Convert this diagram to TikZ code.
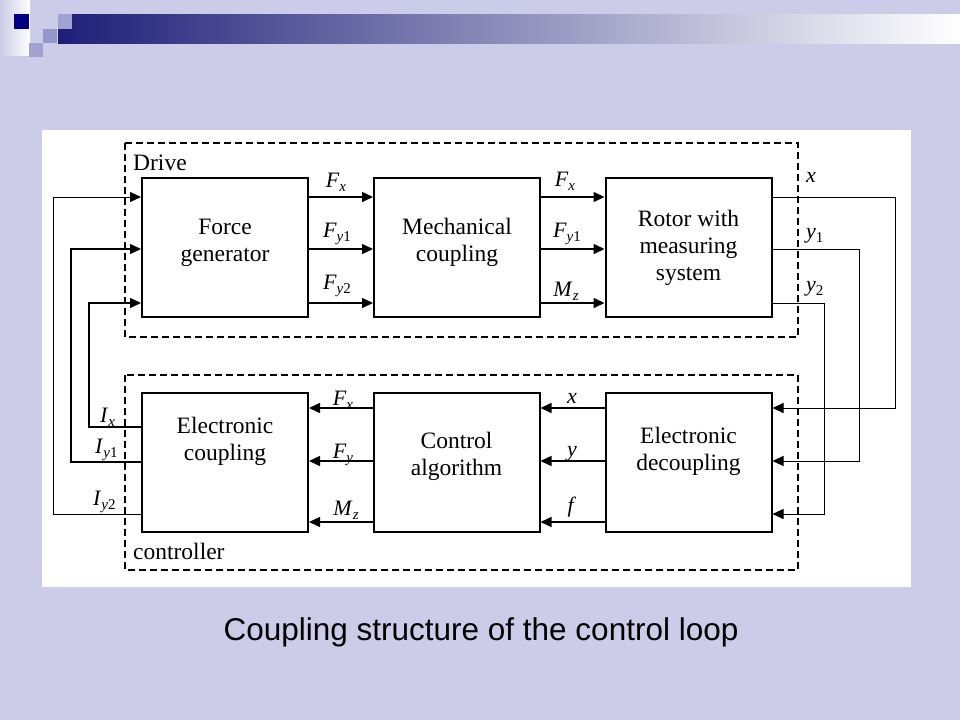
\documentclass[tikz,border=0pt]{standalone}
\usepackage{fontspec}
\setmainfont{Liberation Serif}
\newfontfamily\capfont{Liberation Sans}
\usetikzlibrary{arrows.meta}

\definecolor{slidebg}{RGB}{204,204,232}
\definecolor{barnavy}{RGB}{30,30,120}
\definecolor{barmid}{RGB}{178,178,200}
\definecolor{sqnavy}{RGB}{0,0,128}
\definecolor{sqlight}{RGB}{162,162,210}
\definecolor{sqmid}{RGB}{150,150,200}

\newcommand{\lab}[2]{\textit{#1}\raisebox{-4pt}{\fontsize{15}{15}\selectfont #2}}

\tikzset{
  block/.style={draw=black, line width=2pt, minimum width=166pt, minimum height=139pt, inner sep=0pt},
  btext/.style={align=center, font=\fontsize{23.5}{27}\selectfont, inner sep=0pt},
  sig/.style={line width=1.5pt, -{Triangle[length=11pt,width=10pt]}},
  fb/.style={line width=1pt, -{Triangle[length=11pt,width=10pt]}},
  frame/.style={draw=black, line width=2pt, dash pattern=on 7pt off 4pt},
  lbl/.style={font=\fontsize{22}{22}\selectfont, inner sep=0pt}
}

\begin{document}
\begin{tikzpicture}[x=1pt,y=-1pt]
  \useasboundingbox (0,0) rectangle (960,720);
  \fill[slidebg] (0,0) rectangle (960,720);

  % title decoration
  \shade[left color=slidebg, right color=white] (0,0) rectangle (30,55);
  \shade[left color=barnavy, middle color=barmid, right color=white] (58,14) rectangle (960,43);
  \fill[sqnavy] (14,14) rectangle (29,29);
  \fill[sqlight] (58,14) rectangle (72,29);
  \fill[sqmid] (43,29) rectangle (57,43);
  \fill[sqlight] (29,43) rectangle (43,57);

  \fill[white] (42,130) rectangle (911,587);

  % dashed groups
  \draw[frame] (125,143) rectangle (798,337);
  \draw[frame] (125,375) rectangle (798,570);
  \node[btext, anchor=base west] (drv) at (133,170) {Drive};
  \node[btext, anchor=base west] (ctl) at (133,559) {controller};

  % blocks
  \node[block, label={[btext, yshift=5pt]center:{Force\\generator}}] (fg) at (225,247.5) {};
  \node[block, label={[btext, yshift=5pt]center:{Mechanical\\coupling}}] (mc) at (457,247.5) {};
  \node[block, label={[btext]center:{Rotor with\\measuring\\system}}] (rot) at (688.5,247.5) {};
  \node[block, label={[btext, yshift=21pt]center:{Electronic\\coupling}}] (ec) at (225,462.5) {};
  \node[block, label={[btext, yshift=6pt]center:{Control\\algorithm}}] (ca) at (456.5,462.5) {};
  \node[block, label={[btext, yshift=11pt]center:{Electronic\\decoupling}}] (dec) at (688.5,462.5) {};

  % drive signals
  \foreach \y in {197,249,303} {
    \draw[sig] (fg.east |- 0,\y) -- (mc.west |- 0,\y);
    \draw[sig] (mc.east |- 0,\y) -- (rot.west |- 0,\y);
  }

  % controller signals
  \foreach \y in {408,461,522} {
    \draw[sig] (dec.west |- 0,\y) -- (ca.east |- 0,\y);
    \draw[sig] (ca.west |- 0,\y) -- (ec.east |- 0,\y);
  }

  % measured outputs back to the controller
  \draw[fb] (rot.east |- 0,197) -- ++(123,0) |- (dec.east |- 0,408);
  \draw[fb] (rot.east |- 0,249) -- ++(87,0) |- (dec.east |- 0,461);
  \draw[fb] (rot.east |- 0,303) -- ++(52,0) |- (dec.east |- 0,514);

  % currents to the force generator
  \draw[sig] (ec.west |- 0,427) -- ++(-52,0) |- (fg.west |- 0,303);
  \draw[sig] (ec.west |- 0,462) -- ++(-70,0) |- (fg.west |- 0,249);
  \draw[fb] (ec.west |- 0,514) -- ++(-88,0) |- (fg.west |- 0,197);

  % labels
  \node[lbl, anchor=base] (fx1) at (336,187) {\lab{F}{\textit{x}}};
  \node[lbl, anchor=base] (fya1) at (337,237) {\lab{F}{\textit{y}1}};
  \node[lbl, anchor=base] (fyb1) at (337,289) {\lab{F}{\textit{y}2}};
  \node[lbl, anchor=base] (fx2) at (565,186) {\lab{F}{\textit{x}}};
  \node[lbl, anchor=base] (fya2) at (567,237) {\lab{F}{\textit{y}1}};
  \node[lbl, anchor=base] (mz1) at (566,296) {\lab{M}{\textit{z}}};
  \node[lbl, anchor=base west] (xo) at (806,182) {\textit{x}};
  \node[lbl, anchor=base west] (ya) at (806,238) {\lab{y}{1}};
  \node[lbl, anchor=base west] (yb) at (806,291) {\lab{y}{2}};

  \node[lbl, anchor=base] (fx3) at (343,405) {\lab{F}{\textit{x}}};
  \node[lbl, anchor=base] (fy3) at (343,458) {\lab{F}{\textit{y}}};
  \node[lbl, anchor=base] (mz3) at (346,515) {\lab{M}{\textit{z}}};
  \node[lbl, anchor=base] (xi) at (572,403) {\textit{x}};
  \node[lbl, anchor=base] (yi) at (572,456) {\textit{y}};
  \node[lbl, anchor=base] (fi) at (572,512) {\textit{f}};

  \node[lbl, anchor=base west] (ix) at (100,422) {\lab{I}{\textit{x}}};
  \node[lbl, anchor=base west] (iya) at (95,453) {\lab{I}{\textit{y}1}};
  \node[lbl, anchor=base west] (iyb) at (93,505) {\lab{I}{\textit{y}2}};

  \node[font=\capfont\fontsize{31.5}{36}\selectfont, anchor=base] (cap) at (481,640) {Coupling structure of the control loop};
\end{tikzpicture}
\end{document}
